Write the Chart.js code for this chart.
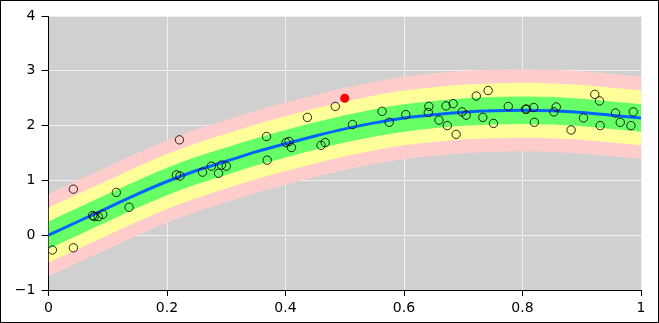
<!DOCTYPE html>
<html>
<head>
<meta charset="utf-8">
<script src="https://cdn.jsdelivr.net/npm/chart.js@4/dist/chart.umd.min.js"></script>
<style>
html,body{margin:0;padding:0;background:#fff;}
#wrap{width:659px;height:323px;position:relative;}
</style>
</head>
<body>
<div id="wrap"><canvas id="c" width="659" height="323"></canvas></div>
<script>
// Fitted centre line
const curveX = [0,0.05,0.1,0.15,0.2,0.25,0.3,0.35,0.4,0.45,0.5,0.55,0.6,0.65,0.7,0.75,0.8,0.85,0.9,0.95,1];
const curveY = [0,0.25,0.5,0.75,0.98,1.18,1.35,1.52,1.67,1.81,1.94,2.05,2.14,2.20,2.245,2.27,2.28,2.27,2.24,2.19,2.14];
// Band half-widths: inner (green), middle (yellow), outer (pink)
const bandHalfWidths = [0.25, 0.5, 0.75];
// Observations
const obsX = [0.0065,0.042,0.042,0.0745,0.077,0.084,0.0915,0.1145,0.136,0.216,0.221,0.222,0.26,0.275,0.287,0.292,0.30,0.368,0.369,0.401,0.406,0.41,0.437,0.46,0.467,0.484,0.513,0.563,0.575,0.603,0.641,0.642,0.659,0.671,0.673,0.683,0.688,0.698,0.705,0.722,0.733,0.742,0.751,0.776,0.805,0.807,0.819,0.820,0.853,0.857,0.882,0.903,0.922,0.930,0.931,0.957,0.965,0.983,0.987];
const obsY = [-0.27,0.84,-0.23,0.36,0.34,0.34,0.38,0.78,0.51,1.10,1.74,1.08,1.15,1.26,1.13,1.28,1.26,1.80,1.37,1.69,1.71,1.60,2.15,1.64,1.69,2.35,2.02,2.26,2.06,2.20,2.24,2.35,2.10,2.36,2.00,2.40,1.84,2.25,2.19,2.54,2.15,2.64,2.04,2.35,2.30,2.30,2.33,2.06,2.25,2.34,1.92,2.14,2.57,2.45,2.00,2.23,2.06,2.00,2.25];
// Highlighted point
const highlightX = [0.5];
const highlightY = [2.5];
// Axis ticks
const xTicks = [0,0.2,0.4,0.6,0.8,1];
const yTicks = [-1,0,1,2,3,4];

const pts = (xs, ys) => xs.map((x,i)=>({x:x,y:ys[i]}));
const shifted = (d) => curveX.map((x,i)=>({x:x,y:curveY[i]+d}));

const bandColors = ['rgb(102,255,102)','rgb(255,255,153)','rgb(255,204,204)'];
const bandSets = [];
for (let b = 0; b < bandHalfWidths.length; b++) {
  bandSets.push({data: shifted(bandHalfWidths[b]), borderWidth:0, pointRadius:0, fill:'+1', backgroundColor:bandColors[b], cubicInterpolationMode:'monotone'});
  bandSets.push({data: shifted(-bandHalfWidths[b]), borderWidth:0, pointRadius:0, fill:false, cubicInterpolationMode:'monotone'});
}

const datasets = [
  {data: pts(highlightX, highlightY), showLine:false, pointRadius:4.5, pointBackgroundColor:'rgb(255,0,0)', pointBorderColor:'rgb(255,0,0)', pointBorderWidth:0},
  {data: pts(obsX, obsY), showLine:false, pointRadius:4.2, pointBackgroundColor:'rgba(0,0,0,0)', pointBorderColor:'rgba(0,0,0,0.85)', pointBorderWidth:1},
  {data: pts(curveX, curveY), borderColor:'rgb(0,100,255)', borderWidth:3, pointRadius:0, fill:false, cubicInterpolationMode:'monotone'}
].concat(bandSets);

const bgPlugin = {
  id:'bg',
  beforeDraw(chart){
    const {ctx, chartArea:a} = chart;
    ctx.save();
    ctx.fillStyle = 'rgb(208,208,208)';
    ctx.fillRect(a.left, a.top, a.right-a.left, a.bottom-a.top);
    ctx.restore();
  },
  afterDraw(chart){
    const ctx = chart.ctx;
    ctx.save();
    ctx.strokeStyle = '#000';
    ctx.lineWidth = 1;
    ctx.strokeRect(0.5,0.5,chart.width-1,chart.height-1);
    ctx.restore();
  }
};

const fmt = v => { const s = String(Math.round(v*10)/10); return s.replace('-', '\u2212'); };

new Chart(document.getElementById('c'), {
  type:'line',
  data:{datasets:datasets},
  plugins:[bgPlugin],
  options:{
    responsive:false,
    animation:false,
    layout:{padding:{top:16,right:18,left:0,bottom:0}},
    plugins:{legend:{display:false}, tooltip:{enabled:false}},
    scales:{
      x:{
        type:'linear', min:0, max:1,
        afterBuildTicks(s){ s.ticks = xTicks.map(v=>({value:v})); },
        afterFit(s){ s.height = 33; },
        grid:{color:'rgb(240,240,240)', lineWidth:1, tickColor:'#000', tickLength:6, drawTicks:true},
        border:{display:true, color:'#000', width:1},
        ticks:{color:'#000', font:{family:'DejaVu Sans', size:14}, padding:4, maxRotation:0, callback:(v)=>fmt(v)}
      },
      y:{
        type:'linear', min:-1, max:4,
        afterBuildTicks(s){ s.ticks = yTicks.map(v=>({value:v})); },
        afterFit(s){ s.width = 48.5; },
        grid:{color:'rgb(240,240,240)', lineWidth:1, tickColor:'#000', tickLength:7, drawTicks:true},
        border:{display:true, color:'#000', width:1},
        ticks:{color:'#000', font:{family:'DejaVu Sans', size:14}, padding:6, callback:(v)=>fmt(v)}
      }
    }
  }
});
</script>
</body>
</html>
